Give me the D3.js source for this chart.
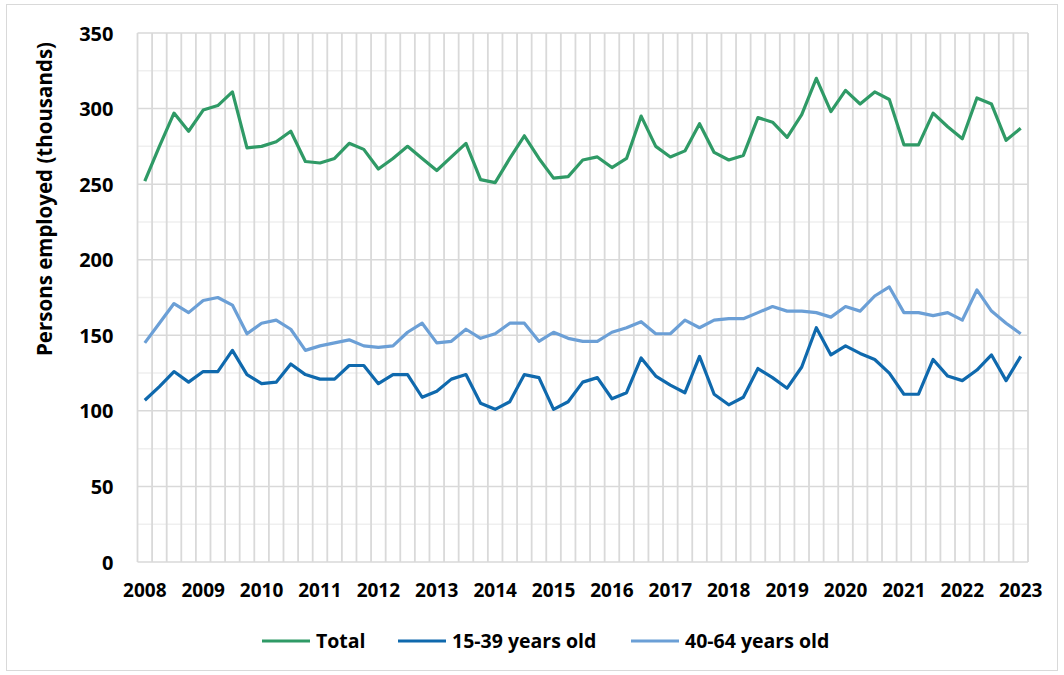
<!DOCTYPE html>
<html>
<head>
<meta charset="utf-8">
<script src="https://cdn.jsdelivr.net/npm/d3@7"></script>
<style>
  body { margin: 0; background: #fff; }
  svg text { font-family: 'Open Sans', 'Noto Sans', sans-serif; font-weight: 700; fill: #000; }
</style>
</head>
<body>
<div id="chart"></div>
<script>
// quarterly series, 2008 Q1 .. 2023 Q1
let years = ['2008', '2009', '2010', '2011', '2012', '2013', '2014', '2015',
  '2016', '2017', '2018', '2019', '2020', '2021', '2022', '2023']
let quarters = ['Q1', 'Q2', 'Q3', 'Q4']

let total = [252, 275, 297, 285, 299, 302, 311, 274, 275, 278, 285, 265,
  264, 267, 277, 273, 260, 267, 275, 267, 259, 268, 277, 253,
  251, 267, 282, 267, 254, 255, 266, 268, 261, 267, 295, 275,
  268, 272, 290, 271, 266, 269, 294, 291, 281, 296, 320, 298,
  312, 303, 311, 306, 276, 276, 297, 288, 280, 307, 303, 279,
  287]

let young = [107, 116, 126, 119, 126, 126, 140, 124, 118, 119, 131, 124,
  121, 121, 130, 130, 118, 124, 124, 109, 113, 121, 124, 105,
  101, 106, 124, 122, 101, 106, 119, 122, 108, 112, 135, 123,
  117, 112, 136, 111, 104, 109, 128, 122, 115, 129, 155, 137,
  143, 138, 134, 125, 111, 111, 134, 123, 120, 127, 137, 120,
  136]

let older = [145, 158, 171, 165, 173, 175, 170, 151, 158, 160, 154, 140,
  143, 145, 147, 143, 142, 143, 152, 158, 145, 146, 154, 148,
  151, 158, 158, 146, 152, 148, 146, 146, 152, 155, 159, 151,
  151, 160, 155, 160, 161, 161, 165, 169, 166, 166, 165, 162,
  169, 166, 176, 182, 165, 165, 163, 165, 160, 180, 166, 158,
  151]

let seriesNames = ['Total', '15-39 years old', '40-64 years old']
let seriesColors = ['#2f9a66', '#0f69ad', '#6b9fd6']

let categories = []
years.forEach(y => quarters.forEach(q => categories.push(y + ' ' + q)))
categories = categories.slice(0, total.length)

let series = [total, young, older]

var width = 1064
var height = 675
var margin = { top: 33, right: 36, bottom: 113, left: 137.5 }

var svg = d3.select('#chart').append('svg')
  .attr('width', width)
  .attr('height', height)

// outer frame
svg.append('rect')
  .attr('x', 6.5)
  .attr('y', 4.5)
  .attr('width', 1051)
  .attr('height', 666)
  .attr('fill', 'none')
  .attr('stroke', '#d9d9d9')
  .attr('stroke-width', 1)

var x = d3.scaleBand()
  .domain(categories)
  .range([margin.left, width - margin.right])
  .padding(0)

var y = d3.scaleLinear()
  .domain([0, 350])
  .range([height - margin.bottom, margin.top])

var gridGroup = svg.append('g').attr('class', 'grid')

// minor horizontal gridlines
gridGroup.selectAll('line.minor')
  .data(d3.range(25, 350, 50))
  .enter().append('line')
    .attr('class', 'minor')
    .attr('x1', margin.left)
    .attr('x2', width - margin.right)
    .attr('y1', d => y(d))
    .attr('y2', d => y(d))
    .attr('stroke', '#efefef')
    .attr('stroke-width', 1.5)

// major horizontal gridlines
gridGroup.selectAll('line.major')
  .data(y.ticks(7))
  .enter().append('line')
    .attr('class', 'major')
    .attr('x1', margin.left)
    .attr('x2', width - margin.right)
    .attr('y1', d => y(d))
    .attr('y2', d => y(d))
    .attr('stroke', '#d9d9d9')
    .attr('stroke-width', 1.5)

// vertical gridlines at category boundaries
var bounds = categories.map(c => x(c)).concat([x.range()[1]])
gridGroup.selectAll('line.vert')
  .data(bounds)
  .enter().append('line')
    .attr('class', 'vert')
    .attr('x1', d => d)
    .attr('x2', d => d)
    .attr('y1', y(350))
    .attr('y2', y(0))
    .attr('stroke', '#d9d9d9')
    .attr('stroke-width', 1.8)

// y axis labels
var yAxis = svg.append('g')
  .attr('transform', 'translate(' + (margin.left - 24) + ',0)')
  .call(d3.axisLeft(y).ticks(7).tickSize(0).tickPadding(0))
yAxis.select('.domain').remove()
yAxis.selectAll('text')
  .style('font-size', '20px')
  .attr('dy', '0.35em')

// x axis labels: one per year, at Q1
var xAxis = svg.append('g')
  .attr('transform', 'translate(0,' + (height - margin.bottom + 21) + ')')
  .call(d3.axisBottom(x)
    .tickValues(categories.filter(c => c.endsWith('Q1')))
    .tickFormat(c => c.slice(0, 4))
    .tickSize(0)
    .tickPadding(0))
xAxis.select('.domain').remove()
xAxis.selectAll('text')
  .style('font-size', '19px')
  .attr('dy', '0.71em')

// y axis title
svg.append('text')
  .attr('transform', 'translate(45,199) rotate(-90)')
  .attr('text-anchor', 'middle')
  .attr('dy', '0.35em')
  .style('font-size', '20.5px')
  .text('Persons employed (thousands)')

// lines
var line = d3.line()
  .x((d, i) => x(categories[i]) + x.bandwidth() / 2)
  .y(d => y(d))

svg.append('g').attr('class', 'lines')
  .selectAll('path')
  .data(series)
  .enter().append('path')
    .attr('d', d => line(d))
    .attr('fill', 'none')
    .attr('stroke', (d, i) => seriesColors[i])
    .attr('stroke-width', 3.2)
    .attr('stroke-linejoin', 'round')

// legend
var legendX = [262, 398, 631]
var legend = svg.append('g').attr('class', 'legend')
var items = legend.selectAll('g')
  .data(seriesNames)
  .enter().append('g')
    .attr('transform', (d, i) => 'translate(' + legendX[i] + ',641)')

items.append('line')
  .attr('x1', 0)
  .attr('x2', 48)
  .attr('stroke', (d, i) => seriesColors[i])
  .attr('stroke-width', 3.2)

items.append('text')
  .attr('x', 54)
  .attr('dy', '0.35em')
  .style('font-size', '19.5px')
  .text(d => d)
</script>
</body>
</html>
